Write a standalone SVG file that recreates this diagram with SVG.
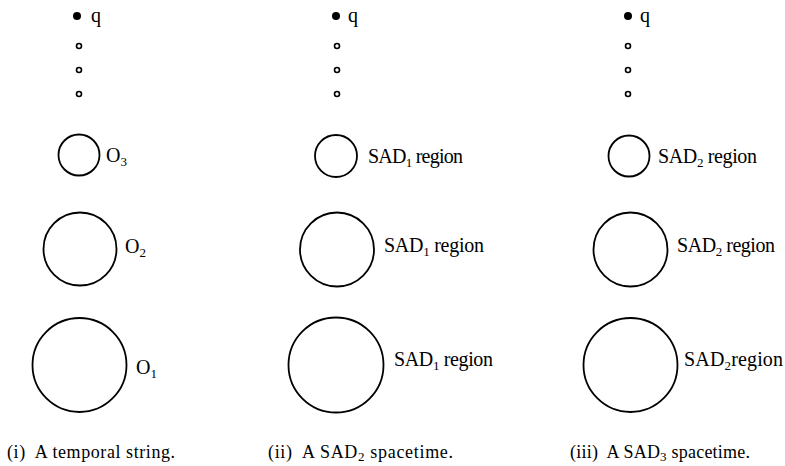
<svg xmlns="http://www.w3.org/2000/svg" width="785" height="466" viewBox="0 0 785 466">
<style>
.c{fill:none;stroke:#000;stroke-width:1.8}
.h{fill:#fff;stroke:#000;stroke-width:1.6}
.f{fill:#000}
text{font-family:"Liberation Serif","Times New Roman",serif;font-size:20px;fill:#000}
.cap{font-size:18px}
.s{font-size:13px}
</style>
<rect width="785" height="466" fill="#fff"/>
<g id="panel1">
  <g id="q1"><circle class="f" cx="77" cy="16" r="4"/><text x="91" y="22">q</text></g>
  <g id="dots1"><circle class="h" cx="79" cy="46" r="2.5"/><circle class="h" cx="79" cy="70" r="2.5"/><circle class="h" cx="79" cy="94" r="2.5"/></g>
  <g id="o3"><circle class="c" cx="79" cy="155" r="20.5"/><text x="106" y="162">O<tspan class="s" dy="4">3</tspan></text></g>
  <g id="o2"><circle class="c" cx="80" cy="249" r="36.5"/><text x="125" y="253">O<tspan class="s" dy="4">2</tspan></text></g>
  <g id="o1"><circle class="c" cx="79.5" cy="365" r="47"/><text x="136" y="374">O<tspan class="s" dy="4">1</tspan></text></g>
  <text class="cap" x="7" y="458" textLength="168" lengthAdjust="spacing">(i)&#160; A temporal string.</text>
</g>
<g id="panel2">
  <g id="q2"><circle class="f" cx="336" cy="16" r="4"/><text x="348" y="22">q</text></g>
  <g id="dots2"><circle class="h" cx="337" cy="46" r="2.5"/><circle class="h" cx="337" cy="70" r="2.5"/><circle class="h" cx="337" cy="94" r="2.5"/></g>
  <g id="sad1a"><circle class="c" cx="336" cy="156" r="21"/><text x="368" y="163" textLength="95" lengthAdjust="spacing">SAD<tspan class="s" dy="4">1</tspan><tspan dy="-4"> region</tspan></text></g>
  <g id="sad1b"><circle class="c" cx="337" cy="249.5" r="37"/><text x="384" y="252" textLength="100" lengthAdjust="spacing">SAD<tspan class="s" dy="4">1</tspan><tspan dy="-4"> region</tspan></text></g>
  <g id="sad1c"><circle class="c" cx="336" cy="365" r="47.5"/><text x="394" y="366" textLength="99" lengthAdjust="spacing">SAD<tspan class="s" dy="4">1</tspan><tspan dy="-4"> region</tspan></text></g>
  <text class="cap" x="268" y="458" textLength="185" lengthAdjust="spacing">(ii)&#160; A SAD<tspan class="s" dy="3">2</tspan><tspan dy="-3"> spacetime.</tspan></text>
</g>
<g id="panel3">
  <g id="q3"><circle class="f" cx="628" cy="16" r="4"/><text x="640" y="22">q</text></g>
  <g id="dots3"><circle class="h" cx="628" cy="46" r="2.5"/><circle class="h" cx="628" cy="70" r="2.5"/><circle class="h" cx="628" cy="94" r="2.5"/></g>
  <g id="sad2a"><circle class="c" cx="629" cy="156" r="20.5"/><text x="658" y="163" textLength="99" lengthAdjust="spacing">SAD<tspan class="s" dy="4">2</tspan><tspan dy="-4"> region</tspan></text></g>
  <g id="sad2b"><circle class="c" cx="630.5" cy="249.5" r="37"/><text x="677" y="252" textLength="98" lengthAdjust="spacing">SAD<tspan class="s" dy="4">2</tspan><tspan dy="-4"> region</tspan></text></g>
  <g id="sad2c"><circle class="c" cx="630.5" cy="365" r="47"/><text x="684" y="366" textLength="99" lengthAdjust="spacing">SAD<tspan class="s" dy="4">2</tspan><tspan dy="-4">region</tspan></text></g>
  <text class="cap" x="570" y="458" textLength="180" lengthAdjust="spacing">(iii)&#160; A SAD<tspan class="s" dy="3">3</tspan><tspan dy="-3"> spacetime.</tspan></text>
</g>
</svg>
